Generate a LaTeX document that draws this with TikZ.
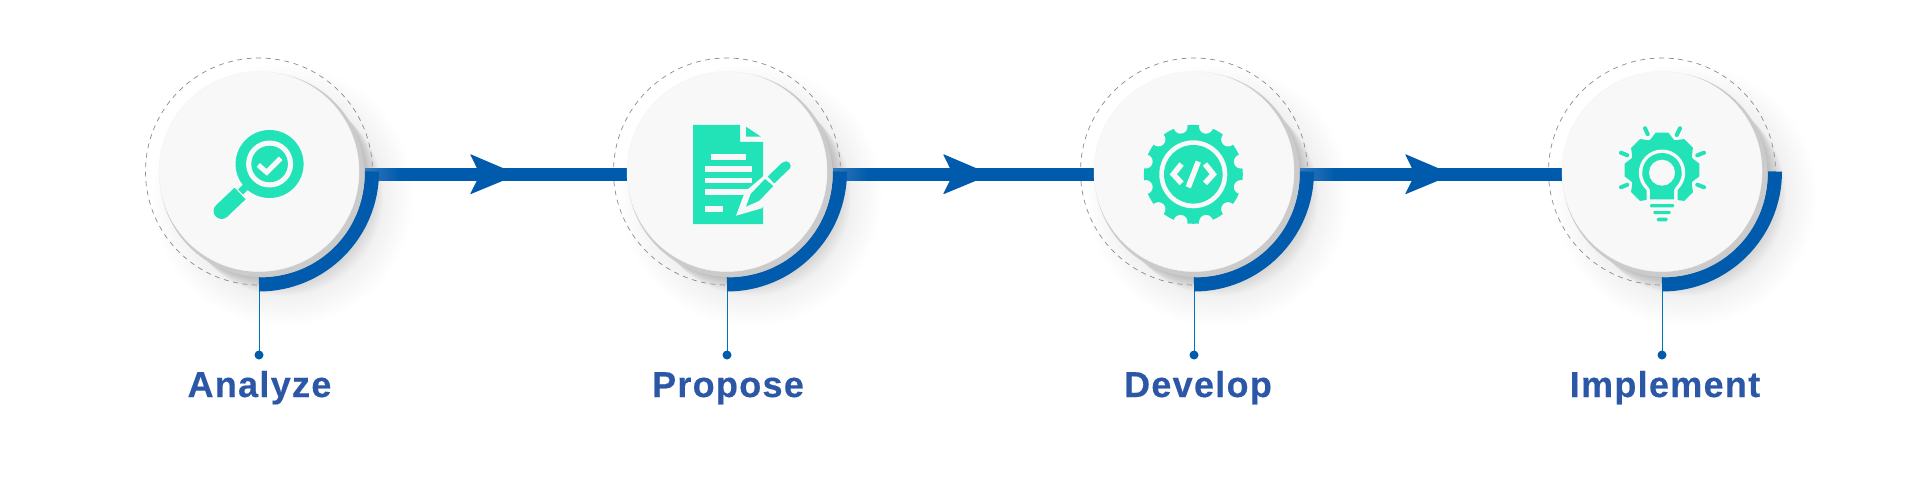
\documentclass[tikz,border=0pt]{standalone}
\usepackage{fontspec}
\usetikzlibrary{calc}
\newfontfamily\lab[LetterSpace=3.6,FakeBold=0.35]{Liberation Sans Bold}
\definecolor{mainblue}{HTML}{005BAC}
\definecolor{fadeblue}{HTML}{3277BA}
\definecolor{teal}{HTML}{22E3B8}
\definecolor{disc}{HTML}{F8F8F8}
\definecolor{crescent}{HTML}{CBCBCB}
\definecolor{labelblue}{HTML}{2C57A6}
\pgfdeclarelayer{bg}
\pgfsetlayers{bg,main}
\tikzset{
  stepdisc/.style={circle,minimum size=200pt,inner sep=0pt,fill=disc,draw=black!4,line width=.5pt},
  ring/.style={draw=black!45,line width=.7pt,dash pattern=on 5pt off 4.5pt},
  quarter/.style={draw=mainblue,line width=14pt},
  band/.style={draw=mainblue,line width=12pt},
  stem/.style={draw=mainblue!85!cyan,line width=1pt},
  dotnode/.style={circle,minimum size=9pt,inner sep=0pt,fill=mainblue},
  steplabel/.style={anchor=base,inner sep=0pt,text=labelblue,font=\lab\fontsize{36}{40}\selectfont},
  icon/.style={fill=teal,draw=none},
  cut/.style={fill=disc,draw=none},
  cutline/.style={draw=disc},
}
\begin{document}
\begin{tikzpicture}[x=1pt,y=-1pt]
\useasboundingbox (0,0) rectangle (1920,500);
\begin{pgfonlayer}{bg}
\fill[white] (0,0) rectangle (1920,500);
\end{pgfonlayer}
% stations
\foreach \i/\x/\lx/\t in {1/259/259.5/Analyze,2/727/728/Propose,3/1194/1198/Develop,4/1662/1665/Implement}{
  \node[stepdisc] (c\i) at (\x,171.5) {};
  \node[dotnode] (d\i) at (\x,355) {};
  \node[steplabel] (t\i) at (\lx,397) {\t};
  \begin{pgfonlayer}{bg}
    \foreach \k in {1,...,22}{
      \fill[black,opacity=.013] ($(c\i.center)+({\k*1.1},{\k*1.1})$) circle[radius=100];
    }
    \foreach \k in {1,...,14}{
      \fill[black,opacity=.0035] ($(c\i.center)+(24,24)$) circle[radius={100+\k*2.2}];
    }
    \draw[ring] (c\i.center) circle[radius=113.5];
  \end{pgfonlayer}
}
% connectors
\begin{pgfonlayer}{bg}
\foreach \i/\j/\s/\h in {1/2/365/470,2/3/833/943,3/4/1300/1405}{
  \coordinate (s\i) at (\s,174.5);
  \coordinate (e\i) at (s\i -| c\j.west);
  \coordinate (h\i) at (\h,174.5);
  \draw[band] (s\i) -- (e\i);
  \foreach \n in {0,...,17}{
    \pgfmathsetmacro{\mixv}{100-\n*100/17}
    \draw[line width=12pt,draw=fadeblue!\mixv!mainblue] ($(s\i)+(\n*2,0)$) -- ($(s\i)+(\n*2+2.2,0)$);
  }
  \fill[mainblue,rounded corners=.8pt] (h\i) ++(0,-20.5) -- ++(48,20.5) -- ++(-48,19.9) -- ++(10,-19.9) -- cycle;
}
\foreach \i in {1,...,4}{
  \draw[stem] (c\i.center) -- (d\i.center);
  \draw[quarter] ($(c\i.center)+(113,0)$) arc[start angle=0,end angle=90,radius=113];
  \fill[crescent] ($(c\i.center)+(3,3)$) circle[radius=102.5];
}
\end{pgfonlayer}
% magnifier
\begin{scope}[shift={(269.6,164)}]
  \draw[teal,line width=7pt] (-29,28) -- (-12,11);
  \fill[icon] (0,0) circle[radius=34];
  \fill[cut] (0,0) circle[radius=23.5];
  \fill[icon] (0,0) circle[radius=18.3];
  \draw[cutline,line width=5pt,miter limit=10] (-11.3,1) -- (-2.9,8.3) -- (11.1,-5.7);
  \draw[teal,line width=16pt] (-29.5,29.5) -- (-48,47);
  \fill[icon] (-48,47) circle[radius=8];
\end{scope}
% document with pen
\begin{scope}
  \fill[icon] (693,125) -- (740,125) -- (740,142) -- (763,142) -- (763,224) -- (693,224) -- cycle;
  \fill[icon] (746,126.7) -- (761,136.7) -- (746,136.7) -- cycle;
  \fill[cut] (711,154) rectangle (746,160);
  \fill[cut] (705,166) rectangle (751.7,171.7);
  \fill[cut] (705,177.7) rectangle (751.7,183.3);
  \fill[cut] (705,189.3) rectangle (752,195);
  \fill[cut] (705,206.3) rectangle (723,212);
  \fill[cut] (736,215.7) -- (745,191.7) -- (766.7,173.3) -- (776.7,186.7) -- (761.7,208.3) -- cycle;
  \fill[icon] (746,206.7) -- (750.7,194) -- (765,179) -- (773.3,186) -- (759.3,200.7) -- cycle;
  \draw[teal,line width=9.5pt] (771,180) -- (785.5,166);
  \fill[icon] (786,166) circle[radius=4.75];
\end{scope}
% gear with code
\begin{scope}[shift={(1193.3,174.3)}]
  \fill[icon] (0,0) circle[radius=49.5];
  \foreach \a in {15,45,...,345}{
    \fill[cut] (\a:49.3) circle[radius=7];
  }
  \fill[cut] (0,0) circle[radius=34];
  \fill[icon] (0,0) circle[radius=29.3];
  \draw[cutline,line width=5.5pt,miter limit=10] (-11.7,-10.3) -- (-20,0) -- (-11.7,9);
  \draw[cutline,line width=5.5pt,miter limit=10] (11.7,-10.3) -- (20,0) -- (11.7,9);
  \draw[cutline,line width=5.5pt] (5,-12.7) -- (-5,13);
\end{scope}
% bulb with gear
\begin{scope}[shift={(1662,170)}]
  \begin{scope}
    \clip (-45,-45) rectangle (45,30);
    \fill[icon] (0,0) circle[radius=32.5];
    \foreach \a in {0,45,...,315}{
      \fill[icon] (\a-22.5:32) -- (\a-9.5:38) -- (\a+9.5:38) -- (\a+22.5:32) -- cycle;
    }
  \end{scope}
  \foreach \a/\b/\c/\d in {-17/-41.7/-14.3/-35.7,18/-41.7/14.7/-35,-41/-17.3/-34.7/-14.7,42/-17.3/35.3/-14.7,-41/17.3/-34.7/14.7,42/17.3/35.3/14.7}{
    \draw[teal,line width=4pt,line cap=round] (\a,\b) -- (\c,\d);
  }
  \begin{scope}[shift={(0,2.7)}]
    \fill[cut] (0,0) circle[radius=23.2];
    \fill[cut] (-23.2,2.3) -- (-15.5,17) -- (-15.5,35) -- (15.5,35) -- (15.5,17) -- (23.2,2.3) -- cycle;
    \fill[icon] (0,0) circle[radius=19.7];
    \fill[icon] (-19.7,2.3) -- (-12,17.3) -- (-12,26.7) -- (12,26.7) -- (12,17.3) -- (19.7,2.3) -- cycle;
    \fill[cut] (0,0) circle[radius=13];
  \end{scope}
  \fill[icon,rounded corners=1pt] (-12,34) rectangle (12,37.4);
  \fill[icon,rounded corners=1pt] (-8.7,41) rectangle (8.7,44);
  \fill[icon,rounded corners=1.5pt] (-5.3,47.7) rectangle (5.7,51.3);
\end{scope}
\end{tikzpicture}
\end{document}
